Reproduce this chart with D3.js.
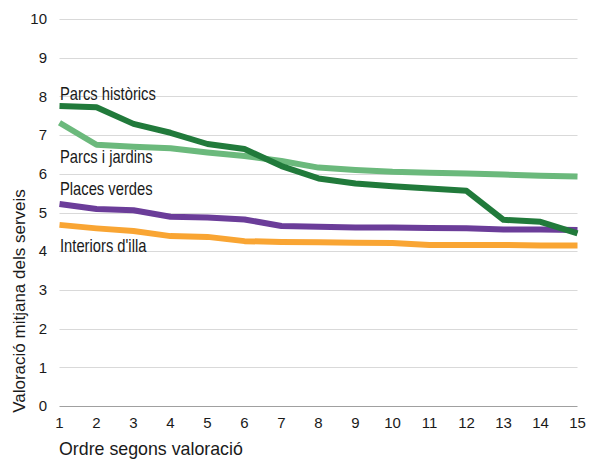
<!DOCTYPE html>
<html><head><meta charset="utf-8">
<script src="https://cdn.jsdelivr.net/npm/d3@7"></script>
<style>body{margin:0;background:#fff}svg{display:block}</style>
</head><body>
<svg id="c" width="595" height="461"></svg>
<script>
const ranks = [1,2,3,4,5,6,7,8,9,10,11,12,13,14,15];
const yTicks = [0,1,2,3,4,5,6,7,8,9,10];
const seriesNames = ["Interiors d'illa","Places verdes","Parcs i jardins","Parcs històrics"];
const interiorsIlla = [4.68,4.59,4.52,4.39,4.37,4.26,4.24,4.23,4.22,4.21,4.16,4.16,4.16,4.15,4.15];
const placesVerdes = [5.22,5.09,5.06,4.89,4.87,4.82,4.65,4.63,4.61,4.61,4.60,4.59,4.56,4.56,4.55];
const parcsJardins = [7.32,6.75,6.70,6.66,6.55,6.46,6.33,6.16,6.10,6.05,6.03,6.01,5.98,5.95,5.93];
const parcsHistorics = [7.75,7.72,7.29,7.06,6.77,6.64,6.20,5.88,5.75,5.68,5.62,5.56,4.81,4.76,4.46];
const colors = ["#f9a533","#6b3d99","#6bb97c","#217a3b"];

const svg = d3.select("#c");
const x = d3.scaleLinear().domain([1,15]).range([59.5,577.5]);
const y = d3.scaleLinear().domain([0,10]).range([406,19]);

svg.append("g").selectAll("line").data(yTicks.filter(d=>d>0)).join("line")
  .attr("x1",x(1)).attr("x2",x(15)).attr("y1",d=>Math.round(y(d))+0.5).attr("y2",d=>Math.round(y(d))+0.5)
  .attr("stroke","#d9d9d9").attr("stroke-width",1);
svg.append("line").attr("x1",x(1)).attr("x2",x(15)).attr("y1",Math.round(y(0))+0.5).attr("y2",Math.round(y(0))+0.5)
  .attr("stroke","#a0a0a0").attr("stroke-width",1);

const font = "'Liberation Sans', Arial, sans-serif";
svg.append("g").selectAll("text").data(yTicks).join("text")
  .attr("x",47).attr("y",d=>y(d)).attr("dy","0.35em").attr("text-anchor","end")
  .attr("font-family",font).attr("font-size",15).attr("fill","#1a1a1a").text(d=>d);
svg.append("g").selectAll("text").data(ranks).join("text")
  .attr("x",d=>x(d)).attr("y",428).attr("text-anchor","middle")
  .attr("font-family",font).attr("font-size",15).attr("fill","#1a1a1a").text(d=>d);

svg.append("text").attr("x",59).attr("y",455).attr("font-family",font).attr("font-size",17.8)
  .attr("fill","#1a1a1a").text("Ordre segons valoració");
svg.append("text").attr("transform","translate(25,301) rotate(-90)").attr("text-anchor","middle")
  .attr("font-family",font).attr("font-size",17).attr("fill","#1a1a1a").text("Valoració mitjana dels serveis");

const data = [interiorsIlla, placesVerdes, parcsJardins, parcsHistorics];
const line = d3.line().x((d,i)=>x(ranks[i])).y(d=>y(d));
svg.append("g").selectAll("path").data(data).join("path")
  .attr("d",line).attr("fill","none").attr("stroke",(d,i)=>colors[i]).attr("stroke-width",6)
  .attr("stroke-linejoin","round");

const labelY = [252,195,163,100];
svg.append("g").selectAll("text").data(seriesNames).join("text")
  .attr("transform",(d,i)=>`translate(60,${labelY[i]}) scale(0.82,1)`)
  .attr("font-family",font).attr("font-size",18)
  .attr("fill","#1a1a1a").text(d=>d);
</script>
</body></html>
